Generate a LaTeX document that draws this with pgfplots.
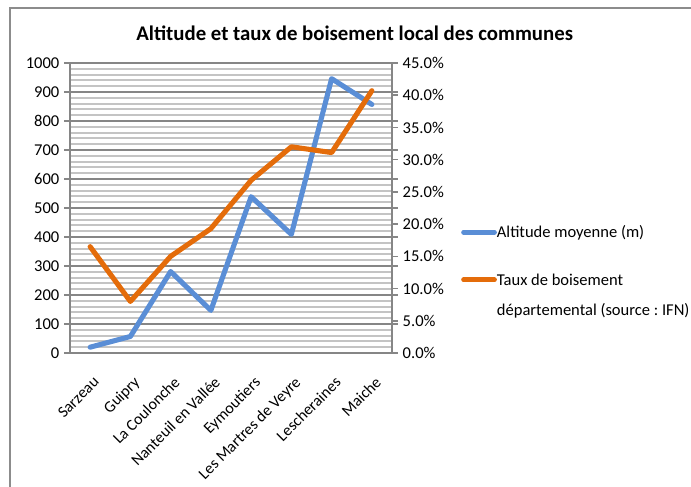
\documentclass[border=0pt]{standalone}
\usepackage{pgfplots}
\pgfplotsset{compat=1.18}
\usepackage{fontspec}
\setmainfont{Carlito}

\definecolor{altblue}{HTML}{5A8ED6}
\definecolor{foretorange}{HTML}{E46C0A}
\definecolor{majgrid}{HTML}{868686}
\definecolor{mingrid}{HTML}{C4C4C4}
\definecolor{framegray}{HTML}{8C8C8C}

\newcommand{\ticksize}{\fontsize{12.4}{15}\selectfont}
\newcommand{\catsize}{\fontsize{12}{14.5}\selectfont}

\begin{document}
\frenchspacing
\begin{tikzpicture}
\useasboundingbox (0pt,0pt) rectangle (518.25pt,364.5pt);
% chart area frame (left and top edges)
\draw[line width=1.4pt, framegray] (7.5pt,-10pt) -- (7.5pt,358.5pt) -- (530pt,358.5pt);
\node[font=\fontsize{15.6}{18}\selectfont\bfseries] at (266pt,339.75pt)
  {Altitude et taux de boisement local des communes};

% left axis: mean altitude
\begin{axis}[
  at={(52.5pt,99.75pt)}, anchor=south west, scale only axis,
  width=241.5pt, height=217.5pt,
  xmin=-0.5, xmax=7.5, ymin=0, ymax=1000,
  xtick={0,...,7},
  xticklabels={Sarzeau, Guipry, La Coulonche, Nanteuil en Vallée, Eymoutiers,
               Les Martres de Veyre, Lescheraines, Maiche},
  x tick label style={rotate=45, anchor=north east, font=\catsize,
                      xshift=-4pt, yshift=-6.5pt},
  ytick={0,100,...,1000},
  minor y tick num=4,
  ymajorgrids, yminorgrids,
  major grid style={majgrid, line width=1.5pt},
  minor grid style={mingrid, line width=1.4pt},
  axis line style={majgrid, line width=1.5pt},
  tick align=outside,
  major tick length=4.5pt, minor tick length=0pt,
  xtick style={draw=none},
  ytick style={majgrid, line width=1.2pt},
  y tick label style={font=\ticksize},
  /pgf/number format/assume math mode=true,
  /pgf/number format/1000 sep={},
]
\addplot[altblue, line width=3.8pt, line join=round, line cap=round]
  coordinates {(0,20) (1,57) (2,281) (3,147) (4,539) (5,409) (6,946) (7,857)};
\end{axis}

% right axis: departmental forest cover (%)
\begin{axis}[
  at={(52.5pt,99.75pt)}, anchor=south west, scale only axis,
  width=241.5pt, height=217.5pt,
  xmin=-0.5, xmax=7.5, ymin=0, ymax=45,
  axis x line=none, axis y line*=right,
  ytick={0,5,...,45},
  yticklabel={\pgfmathprintnumber[assume math mode=true,fixed,fixed zerofill,precision=1]{\tick}\%},
  y tick label style={font=\ticksize},
  axis line style={majgrid, line width=1.5pt},
  tick align=outside, major tick length=4.5pt,
  ytick style={majgrid, line width=1.2pt},
  legend style={draw=none, fill=none, at={(1.214,0.442)}, anchor=north west,
                font=\ticksize, inner sep=0pt, row sep=24.5pt,
                nodes={inner sep=0pt}},
  legend cell align=left,
  legend image code/.code={\draw[#1, line cap=round] (0pt,0pt) -- (23pt,0pt);},
]
\addlegendimage{altblue, line width=3.8pt}
\addlegendentry{Altitude moyenne (m)}
\addplot[foretorange, line width=3.8pt, line join=round, line cap=round]
  coordinates {(0,16.5) (1,8.0) (2,15.0) (3,19.3) (4,26.8) (5,32.0) (6,31.1) (7,40.7)};
\addlegendentry{\begin{tabular}[t]{@{}l@{}}Taux de boisement\\[7pt]départemental (source : IFN)\end{tabular}}
\end{axis}
\end{tikzpicture}
\end{document}
